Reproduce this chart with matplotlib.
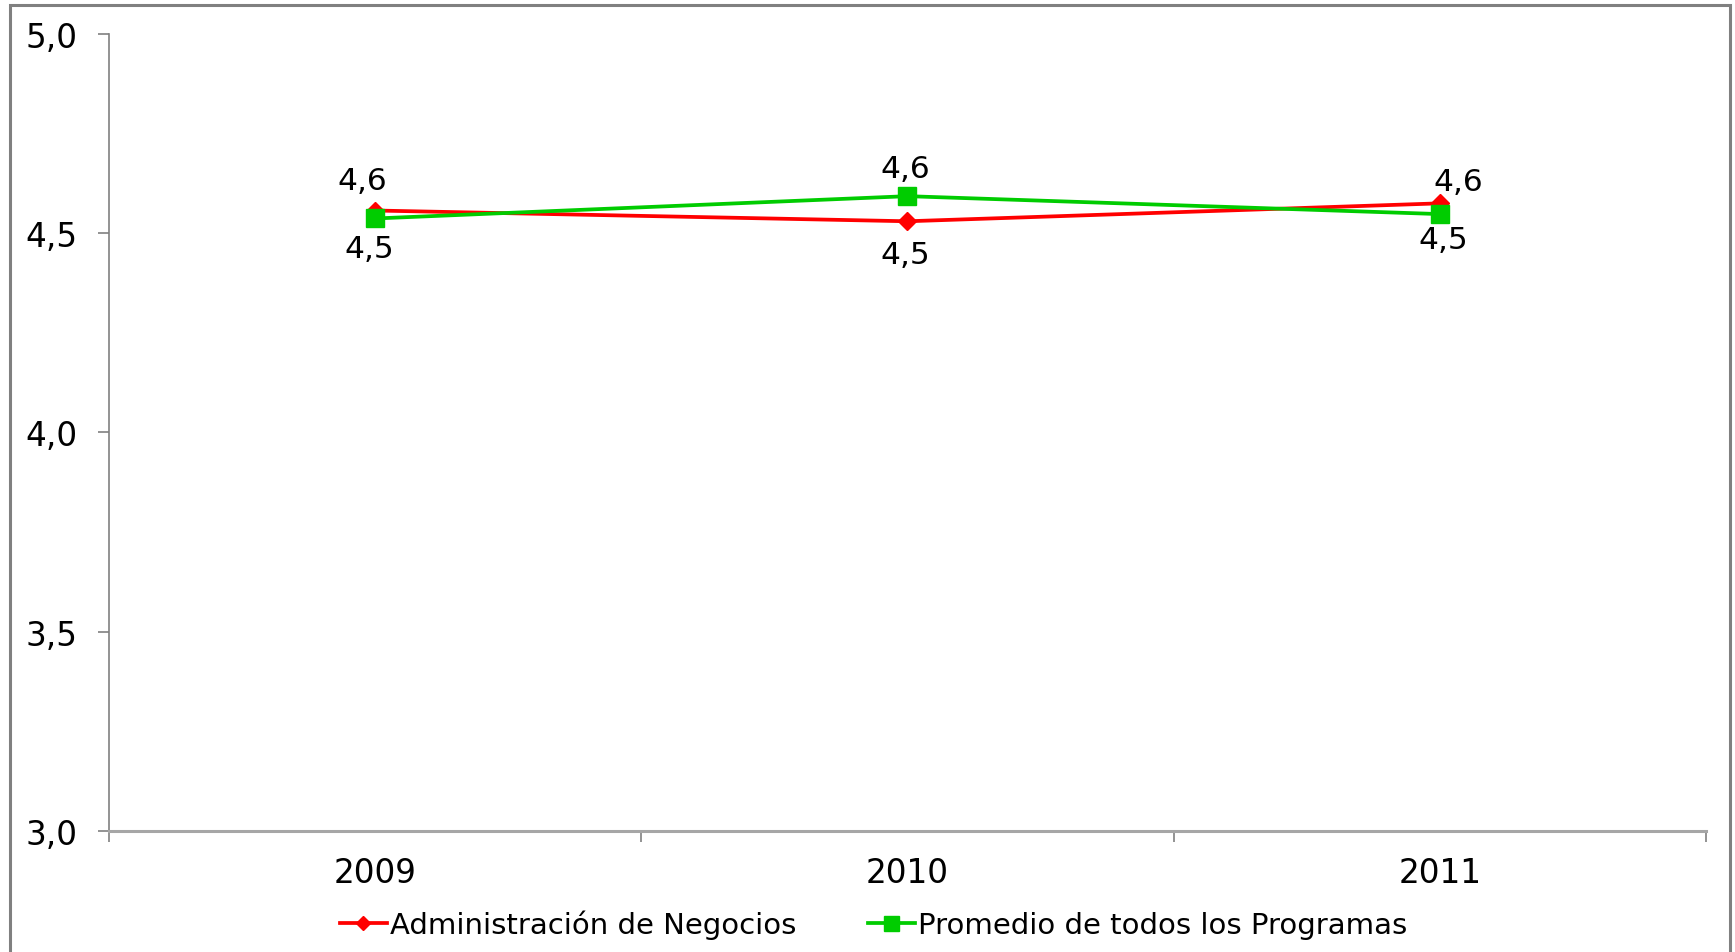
import matplotlib
matplotlib.use("Agg")
import matplotlib.pyplot as plt
from matplotlib.patches import Rectangle
from matplotlib.ticker import FixedLocator, FuncFormatter

years = ["2009", "2010", "2011"]
admin_negocios = [4.557, 4.530, 4.575]
promedio_programas = [4.537, 4.593, 4.548]
series_names = ["Administración de Negocios", "Promedio de todos los Programas"]
y_ticks = [3.0, 3.5, 4.0, 4.5, 5.0]

plt.rcParams['font.family'] = ['DejaVu Sans']

fig = plt.figure(figsize=(17.35, 9.53), dpi=100)
ax = fig.add_axes([0.0628, 0.1270, 0.9833 - 0.0628, 0.9633 - 0.1270])

x = list(range(len(years)))
red = "#FF0000"
green = "#00CC00"

l1, = ax.plot(x, admin_negocios, color=red, lw=2.7, marker="D", ms=9.5,
              mec=red, mfc=red, zorder=3, label=series_names[0])
l2, = ax.plot(x, promedio_programas, color=green, lw=2.7, marker="s", ms=13.5,
              mec=green, mfc=green, zorder=4, label=series_names[1])

def fmt(v):
    return f"{v:.1f}".replace(".", ",")

red_offsets = [(-9.4, 21.5), (-1.4, -24.0), (13.0, 16.0)]
green_offsets = [(-4.3, -21.5), (-1.4, 19.8), (2.2, -18.5)]
for xi, v, off in zip(x, admin_negocios, red_offsets):
    ax.annotate(fmt(v), (xi, v), xytext=off, textcoords="offset points",
                ha="center", va="center", fontsize=22.5, color="black")
for xi, v, off in zip(x, promedio_programas, green_offsets):
    ax.annotate(fmt(v), (xi, v), xytext=off, textcoords="offset points",
                ha="center", va="center", fontsize=22.5, color="black")

ax.set_xlim(-0.5, len(years) - 0.5)
ax.set_ylim(3.0, 5.0)
ax.yaxis.set_major_locator(FixedLocator(y_ticks))
ax.yaxis.set_major_formatter(FuncFormatter(lambda v, p: fmt(v)))

ax.set_xticks([i - 0.5 for i in range(len(years) + 1)])
ax.set_xticklabels([])
ax.set_xticks(x, minor=True)
ax.set_xticklabels(years, minor=True)
ax.tick_params(axis="x", which="major", direction="out", length=8, width=1.2, color="#808080")
ax.tick_params(axis="x", which="minor", length=0, pad=18, labelsize=23.5)
ax.tick_params(axis="y", direction="out", length=8, width=1.2, color="#808080",
               pad=15, labelsize=23.5)

for s in ["top", "right"]:
    ax.spines[s].set_visible(False)
ax.spines["left"].set_color("#808080")
ax.spines["left"].set_linewidth(1.2)
ax.spines["bottom"].set_color("#A6A6A6")
ax.spines["bottom"].set_linewidth(2.2)

fig.legend(handles=[l1, l2], loc="center", bbox_to_anchor=(0.5035, 0.0294),
           ncol=2, frameon=False, fontsize=21, handlelength=1.6,
           handletextpad=0.12, columnspacing=2.45, markerscale=0.8)

# outer chart frame
fig.patches.append(Rectangle((10 / 1735, -0.05), (1730 - 10) / 1735, 1.05 - 6 / 953,
                             transform=fig.transFigure, fill=False,
                             edgecolor="#808080", lw=2.2))

fig.savefig("out.png", dpi=100)
